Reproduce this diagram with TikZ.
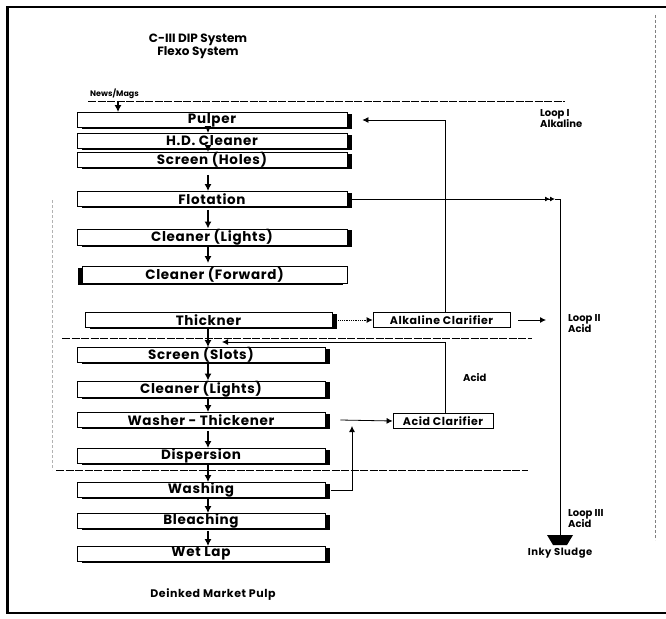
\documentclass[tikz,border=0pt]{standalone}
\usepackage{fontspec}
\setmainfont{Poppins}
\newfontfamily\plate[LetterSpace=5]{Poppins}
\usetikzlibrary{arrows.meta,shadows}

\newcommand\boxfont{\plate\bfseries\fontsize{13.5}{13.5}\selectfont}
\newcommand\clarfont{\plate\bfseries\fontsize{11}{11}\selectfont}
\newcommand\tagfont{\bfseries\fontsize{10}{11}\selectfont}

\begin{document}
\begin{tikzpicture}[x=1pt, y=-1pt, >={Latex[length=7pt,width=7pt]},
    stage/.style={draw, fill=white, line width=0.8pt, minimum height=15pt, inner sep=0pt, font=\boxfont,
      drop shadow={shadow xshift=#1, shadow yshift=-1.5pt, fill=black, opacity=1}},
    stage/.default=4.5pt,
    upper/.style={minimum width=270pt},
    lower/.style={minimum width=248pt},
    clarifier/.style={draw, line width=0.8pt, minimum height=15pt, inner sep=0pt, font=\clarfont},
    flow/.style={->, line width=1.4pt},
    loopline/.style={-{Latex[length=6pt,width=6pt]}, line width=0.8pt},
    sep/.style={line width=0.9pt, dash pattern=on 8pt off 1.5pt},
    tag/.style={font=\tagfont, align=left, inner sep=0pt, anchor=west}]

    \useasboundingbox (0,0) rectangle (666,618);

    % frame of the scan
    \draw[line width=3pt] (7,7) -- (7,614);
    \draw[line width=1.5pt] (6,7) -- (666,7);
    \draw[line width=2pt] (6,613) -- (666,613);
    \draw[gray, densely dashed, line width=0.6pt] (655,15) -- (655,540);
    \draw[gray!60, densely dashed, line width=0.5pt] (52,200) -- (52,470);

    \node[font=\bfseries\fontsize{12}{12}\selectfont, align=center] (title) at (198,46) {C-III DIP System\\Flexo System};
    \node[font=\bfseries\fontsize{8}{8}\selectfont, anchor=west, inner sep=0pt] (news) at (90,94) {News/Mags};
    \coordinate (spine) at (208,0);

    % loop I, alkaline
    \node[stage, upper] (pulper) at (212,120) {Pulper};
    \node[stage, upper] (hdclean) at (212,141) {H.D. Cleaner};
    \node[stage, upper] (screenh) at (212,160) {Screen (Holes)};
    \node[stage, upper] (flot) at (212,199) {Flotation};
    \node[stage, upper] (cleanl) at (212,237) {Cleaner (Lights)};
    \node[stage=-4.5pt, minimum width=265pt, minimum height=17pt] (cleanf) at (214.5,275) {Cleaner (Forward)};
    \node[stage, minimum width=247pt] (thick) at (208.5,320) {Thickner};

    % loop II, acid
    \node[stage, lower] (screens) at (201,355) {Screen (Slots)};
    \node[stage, lower] (cleanl2) at (201,389) {Cleaner (Lights)};
    \node[stage, lower] (washer) at (201,420) {Washer - Thickener};
    \node[stage, lower] (disp) at (201,456) {Dispersion};

    % loop III
    \node[stage, lower] (washing) at (201,490) {Washing};
    \node[stage, lower] (bleach) at (201,521) {Bleaching};
    \node[stage, lower] (wetlap) at (201,554) {Wet Lap};
    \node[font=\plate\bfseries\fontsize{11}{11}\selectfont] (pulp) at (213,595) {Deinked Market Pulp};

    \node[clarifier, minimum width=137pt] (alkclar) at (441.5,320) {Alkaline Clarifier};
    \node[clarifier, minimum width=100pt] (acidclar) at (443,421) {Acid Clarifier};

    \node[tag] (loopi) at (540,118.5) {Loop I\\Alkaline};
    \node[tag] (loopii) at (568,323.5) {Loop II\\Acid};
    \node[tag] (loopiii) at (568,519) {Loop III\\Acid};
    \node[tag] (acid) at (463,378) {Acid};

    % sludge hopper
    \coordinate (sludge) at (560,535);
    \fill (sludge) ++(-13,0) -- ++(26,0) -- ++(-6,10) -- ++(-14,0) -- cycle;
    \node[font=\plate\bfseries\fontsize{10}{10}\selectfont] (inky) at (560,553) {Inky Sludge};

    % separators
    \draw[sep] (88,101) -- (565,101);
    \draw[sep] (62,338) -- (532,338);
    \draw[sep] (56,470) -- (528,470);

    % main line
    \coordinate (feed) at (118,101);
    \draw[flow] (feed) -- (feed |- pulper.north);
    \draw[flow] (pulper.south -| spine) -- (hdclean.north -| spine);
    \draw[flow] (hdclean.south -| spine) -- (screenh.north -| spine);
    \draw[flow, shorten <=7pt] (screenh.south -| spine) -- (flot.north -| spine);
    \draw[flow, shorten <=3pt] (flot.south -| spine) -- (cleanl.north -| spine);
    \draw[flow, shorten >=3pt] (cleanl.south -| spine) -- (cleanf.north -| spine);
    \draw[flow] (thick.south -| spine) -- (screens.north -| spine);
    \draw[flow] (screens.south -| spine) -- (cleanl2.north -| spine);
    \draw[flow] (cleanl2.south -| spine) -- (washer.north -| spine);
    \draw[flow, shorten <=3pt] (washer.south -| spine) -- (disp.north -| spine);
    \draw[flow] (disp.south -| spine) -- (washing.north -| spine);
    \draw[flow] (washing.south -| spine) -- (bleach.north -| spine);
    \draw[flow, shorten <=2pt] (bleach.south -| spine) -- (wetlap.north -| spine);

    % loops
    \coordinate (alkup) at (445,0);
    \draw[loopline, shorten >=15pt] (alkclar.north -| alkup) |- (pulper.east);
    \draw[loopline, densely dotted] ([xshift=6pt]thick.east) -- (alkclar.west);
    \draw[loopline, shorten >=22pt] ([xshift=8pt]alkclar.east) -- (loopii.west |- alkclar.east);
    \coordinate (acidin) at (222,342);
    \draw[loopline] (acidclar.north -| alkup) |- (acidin);
    \draw[loopline] ([xshift=15pt]washer.east) -- (acidclar.west);
    \coordinate (riser) at (352,426);
    \draw[loopline] ([xshift=6pt]washing.east) -| (riser);
    \coordinate (tip) at (555,199);
    \draw[line width=0.9pt, -{Latex[length=5pt,width=5pt]Latex[length=5pt,width=5pt]}] ([xshift=5pt]flot.east) -- (tip);
    \draw[line width=0.9pt] (tip) -| (sludge);
\end{tikzpicture}
\end{document}
